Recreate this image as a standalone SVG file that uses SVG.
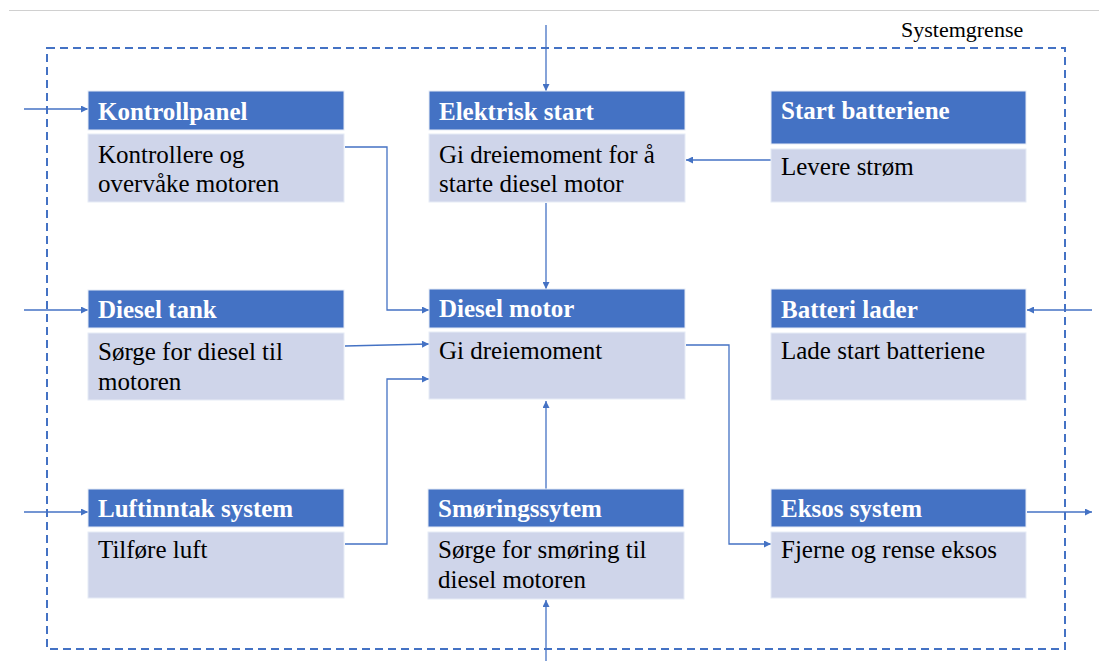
<svg xmlns="http://www.w3.org/2000/svg" width="1099" height="661" viewBox="0 0 1099 661">
<style>
.hd{fill:#4472C4;stroke:#E6EBF6;stroke-width:1}
.bd{fill:#CFD5EA;stroke:#E6EBF6;stroke-width:1}
.ht{font-family:"Liberation Serif",Tinos,"Times New Roman",Times,"DejaVu Serif",serif;font-weight:bold;font-size:25px;fill:#FFFFFF}
.bt{font-family:"Liberation Serif",Tinos,"Times New Roman",Times,"DejaVu Serif",serif;font-size:25px;fill:#000000}
.lb{font-family:"Liberation Serif",Tinos,"Times New Roman",Times,"DejaVu Serif",serif;font-size:22px;fill:#000000}
.cn{fill:none;stroke:#4472C4;stroke-width:1.3}
</style>
<defs>
<marker id="ah" viewBox="0 0 10 10" refX="10" refY="5" markerWidth="8" markerHeight="7" markerUnits="userSpaceOnUse" orient="auto">
<path d="M0,0 L10,5 L0,10 z" fill="#4472C4"/>
</marker>
</defs>
<rect width="1099" height="661" fill="#FFFFFF"/>
<line x1="9" y1="10.5" x2="1099" y2="10.5" stroke="#D0D0D0" stroke-width="1"/>
<g id="boundary">
<rect x="47" y="48" width="1018" height="601" fill="none" stroke="#4472C4" stroke-width="2" stroke-dasharray="8 5"/>
<text class="lb" x="901" y="37">Systemgrense</text>
</g>
<g id="connectors">
<path class="cn" d="M24,109 H88" marker-end="url(#ah)"/>
<path class="cn" d="M24,310 H88" marker-end="url(#ah)"/>
<path class="cn" d="M24,512 H88" marker-end="url(#ah)"/>
<path class="cn" d="M546,25 V91" marker-end="url(#ah)"/>
<path class="cn" d="M771,160 H686" marker-end="url(#ah)"/>
<path class="cn" d="M546,203 V289" marker-end="url(#ah)"/>
<path class="cn" d="M345,147 H387 V310 H429" marker-end="url(#ah)"/>
<path class="cn" d="M345,346 L429,344" marker-end="url(#ah)"/>
<path class="cn" d="M345,544 H387 V379 H429" marker-end="url(#ah)"/>
<path class="cn" d="M546,489 V401" marker-end="url(#ah)"/>
<path class="cn" d="M546,661 V600" marker-end="url(#ah)"/>
<path class="cn" d="M686,345 H729 V544 H771" marker-end="url(#ah)"/>
<path class="cn" d="M1092,310 H1027" marker-end="url(#ah)"/>
<path class="cn" d="M1027,512 H1092" marker-end="url(#ah)"/>
</g>
<g id="kontrollpanel">
<rect class="hd" x="88" y="91" width="256" height="39"/>
<rect class="bd" x="88" y="134" width="256" height="68"/>
<text class="ht" x="98" y="120">Kontrollpanel</text>
<text class="bt" x="98" y="163">Kontrollere og</text>
<text class="bt" x="98" y="192">overvåke motoren</text>
</g>
<g id="elektrisk-start">
<rect class="hd" x="429" y="91" width="256" height="39"/>
<rect class="bd" x="429" y="134" width="256" height="68"/>
<text class="ht" x="439" y="120">Elektrisk start</text>
<text class="bt" x="439" y="163">Gi dreiemoment for å</text>
<text class="bt" x="439" y="192">starte diesel motor</text>
</g>
<g id="start-batteriene">
<rect class="hd" x="771" y="91" width="255" height="53"/>
<rect class="bd" x="771" y="149" width="255" height="53"/>
<text class="ht" x="781" y="119">Start batteriene</text>
<text class="bt" x="781" y="175">Levere strøm</text>
</g>
<g id="diesel-tank">
<rect class="hd" x="88" y="290" width="256" height="38"/>
<rect class="bd" x="88" y="333" width="256" height="67"/>
<text class="ht" x="98" y="318">Diesel tank</text>
<text class="bt" x="98" y="360">Sørge for diesel til</text>
<text class="bt" x="98" y="390">motoren</text>
</g>
<g id="diesel-motor">
<rect class="hd" x="429" y="289" width="256" height="39"/>
<rect class="bd" x="429" y="332" width="256" height="67"/>
<text class="ht" x="439" y="317">Diesel motor</text>
<text class="bt" x="439" y="359">Gi dreiemoment</text>
</g>
<g id="batteri-lader">
<rect class="hd" x="771" y="289" width="255" height="39"/>
<rect class="bd" x="771" y="333" width="255" height="67"/>
<text class="ht" x="781" y="318">Batteri lader</text>
<text class="bt" x="781" y="359">Lade start batteriene</text>
</g>
<g id="luftinntak-system">
<rect class="hd" x="88" y="489" width="256" height="38"/>
<rect class="bd" x="88" y="532" width="256" height="66"/>
<text class="ht" x="98" y="517">Luftinntak system</text>
<text class="bt" x="98" y="558">Tilføre luft</text>
</g>
<g id="smoringssytem">
<rect class="hd" x="428" y="489" width="256" height="38"/>
<rect class="bd" x="428" y="532" width="256" height="67"/>
<text class="ht" x="438" y="517">Smøringssytem</text>
<text class="bt" x="438" y="558">Sørge for smøring til</text>
<text class="bt" x="438" y="588">diesel motoren</text>
</g>
<g id="eksos-system">
<rect class="hd" x="771" y="489" width="255" height="38"/>
<rect class="bd" x="771" y="532" width="255" height="66"/>
<text class="ht" x="781" y="517">Eksos system</text>
<text class="bt" x="781" y="558">Fjerne og rense eksos</text>
</g>
</svg>
